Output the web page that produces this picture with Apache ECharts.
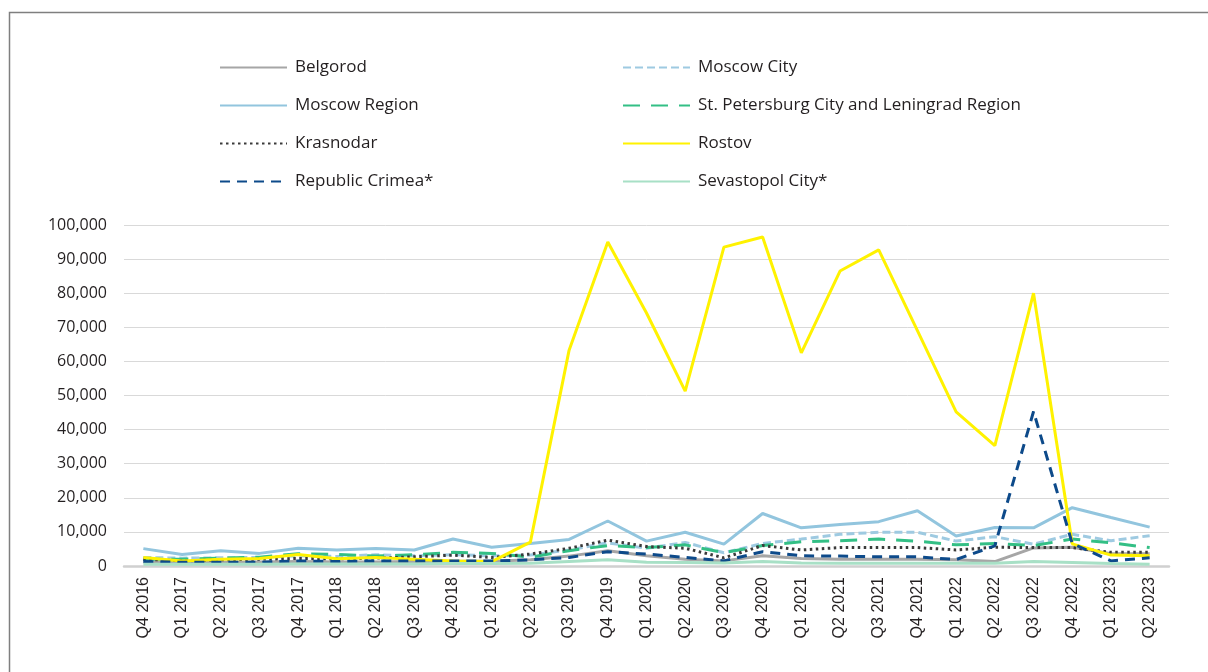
<!DOCTYPE html>
<html>
<head>
<meta charset="utf-8">
<script src="https://cdn.jsdelivr.net/npm/echarts@6/dist/echarts.min.js"></script>
<style>
	html,body{margin:0;padding:0;background:#fff;}
	#chart{width:1208px;height:672px;}
</style>
</head>
<body>
<div id="chart"></div>
<script>
var categories=['Q4 2016','Q1 2017','Q2 2017','Q3 2017','Q4 2017','Q1 2018','Q2 2018','Q3 2018','Q4 2018',
	'Q1 2019','Q2 2019','Q3 2019','Q4 2019','Q1 2020','Q2 2020','Q3 2020','Q4 2020','Q1 2021','Q2 2021',
	'Q3 2021','Q4 2021','Q1 2022','Q2 2022','Q3 2022','Q4 2022','Q1 2023','Q2 2023'];
var yTicks=[0,10000,20000,30000,40000,50000,60000,70000,80000,90000,100000];

var belgorod=[1200,1100,1100,1200,1300,1200,1200,1300,1400,1400,1800,2900,4500,3000,2000,1500,3000,2200,2000,2000,2000,1800,1300,5300,5500,3600,3600];
var moscowCity=[2500,2300,2400,2500,3000,2800,3300,3000,3300,3000,3200,4700,6800,5200,6900,3900,6600,7900,9300,9900,9900,7300,8600,6400,9300,7400,8900];
var moscowRegion=[5100,3400,4500,3700,5200,4700,5100,4700,7900,5500,6600,7800,13200,7300,9900,6400,15400,11200,12200,13000,16200,8800,11300,11200,17100,14200,11400];
var stPetersburg=[2000,2000,2300,2600,3600,3400,2900,3300,4000,3700,2600,4500,6000,5400,6200,3900,6000,7100,7400,7900,7300,6200,6600,6000,7900,6800,5400];
var krasnodar=[2000,1500,1800,2000,2200,2100,2300,2700,3200,2500,3500,5200,7600,5700,5200,2400,6000,4700,5400,5400,5400,4700,5500,5400,5400,4000,4000];
var rostov=[2500,1500,2000,2200,3400,2100,2500,2000,1500,1300,7000,63300,95000,74200,51300,93500,96500,62500,86500,92700,69000,45200,35300,80000,6500,3200,3000];
var crimea=[1300,1100,1100,1100,1500,1300,1500,1500,1500,1500,1800,2500,4200,3500,2500,1500,4200,3000,2900,2700,2700,1900,5900,45300,6600,1500,2400];
var sevastopol=[500,500,500,500,600,600,600,600,700,700,800,1300,1800,1100,1000,900,1300,900,800,800,800,800,800,1300,1000,700,500];

var chart=echarts.init(document.getElementById('chart'));

//one line series, style only
function lineSeries(name,data,color,dash){
	return {
		name:name,
		type:'line',
		symbol:'none',
		data:data,
		color:color,
		lineStyle:{
			color:color,
			width:3,
			type:dash||'solid',
			cap:'butt'
		},
		emphasis:{disabled:true}
	};
}

var legendText={color:'#231f20',fontSize:17,fontFamily:'Open Sans',padding:[0,0,0,3]};

var option={
	animation:false,
	backgroundColor:'#fff',
	graphic:[
		{//frame round the figure
			type:'rect',
			shape:{x:9.5,y:12.5,width:1400,height:900},
			style:{fill:'none',stroke:'#7f7f7f',lineWidth:1.5},
			silent:true
		}
	],
	legend:[
		{
			orient:'vertical',
			left:214,
			top:54,
			itemWidth:67,
			itemHeight:14,
			itemGap:21,
			itemStyle:{opacity:0},//no dot on the legend line
			textStyle:legendText,
			data:['Belgorod','Moscow Region','Krasnodar','Republic Crimea*']
		},
		{
			orient:'vertical',
			left:617,
			top:54,
			itemWidth:67,
			itemHeight:14,
			itemGap:21,
			itemStyle:{opacity:0},
			textStyle:legendText,
			data:['Moscow City','St. Petersburg City and Leningrad Region','Rostov','Sevastopol City*']
		}
	],
	grid:{
		left:124,
		right:39,
		top:225,
		bottom:106
	},
	xAxis:{
		type:'category',
		data:categories,
		boundaryGap:true,
		axisTick:{show:false},
		axisLine:{
			show:true,
			lineStyle:{color:'#d0d0d0',width:2.5}
		},
		axisLabel:{
			rotate:90,
			interval:0,
			margin:11,
			color:'#231f20',
			fontSize:16,
			fontFamily:'Liberation Sans'
		}
	},
	yAxis:{
		type:'value',
		min:yTicks[0],
		max:yTicks[yTicks.length-1],
		interval:yTicks[1]-yTicks[0],
		axisTick:{show:false},
		axisLine:{show:false},
		splitLine:{
			show:true,
			lineStyle:{color:'#d9d9d9',width:1}
		},
		axisLabel:{
			margin:17,
			color:'#231f20',
			fontSize:16,
			fontFamily:'Open Sans',
			formatter:function(v){return v.toLocaleString('en-US');}
		}
	},
	series:[
		lineSeries('Belgorod',belgorod,'#a6a6a6'),
		lineSeries('Moscow City',moscowCity,'#9ecae1',[8,4]),
		lineSeries('Moscow Region',moscowRegion,'#92c5de'),
		lineSeries('St. Petersburg City and Leningrad Region',stPetersburg,'#33bf85',[17,11]),
		lineSeries('Krasnodar',krasnodar,'#3a3a3a',[2.5,3.5]),
		lineSeries('Rostov',rostov,'#fff200'),
		lineSeries('Republic Crimea*',crimea,'#0d4a8a',[10,7]),
		lineSeries('Sevastopol City*',sevastopol,'#a8e0c6')
	]
};
chart.setOption(option);
</script>
</body>
</html>
